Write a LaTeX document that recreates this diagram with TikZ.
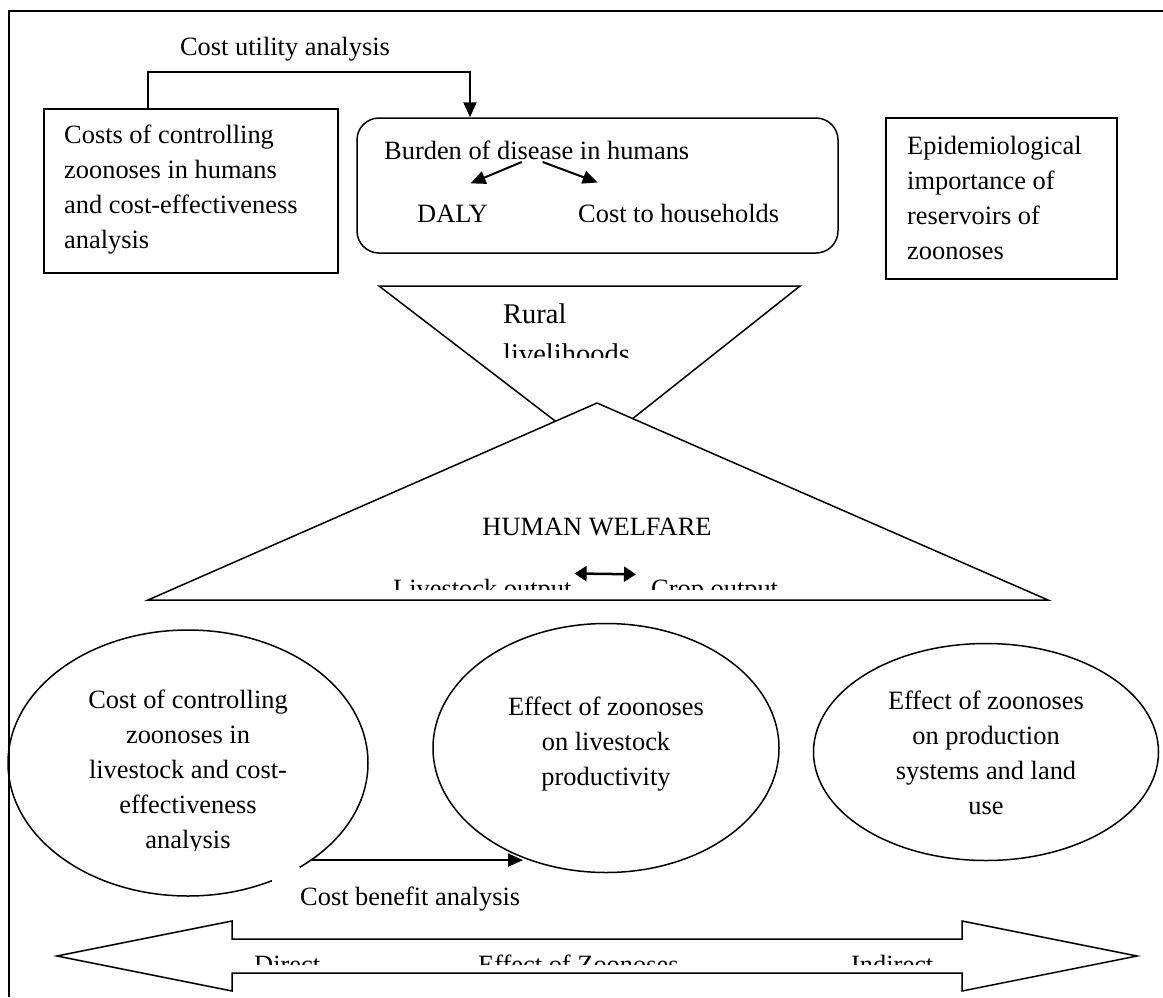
\documentclass[tikz,border=0pt]{standalone}
\usepackage{fontspec}
\setmainfont{Liberation Serif}
\usetikzlibrary{arrows.meta,shapes.geometric}
\newcommand{\linesl}[1]{\begin{tabular}[t]{@{}l@{}}#1\end{tabular}}
\newcommand{\linesc}[1]{\begin{tabular}[t]{@{}c@{}}#1\end{tabular}}
\begin{document}
\begin{tikzpicture}[x=1pt,y=-1pt,
        every node/.style={font=\fontsize{26.4}{35}\selectfont,inner sep=0pt},
        txt/.style={anchor=base west},
        ctxt/.style={anchor=base},
        box/.style={draw,line width=1.5pt,rectangle},
        oval/.style={draw,line width=1.5pt,ellipse},
        wtip/.style={-{Triangle[length=15pt,width=13pt]},line width=2pt}]
        \useasboundingbox (0,0) rectangle (1163,997);
        \draw[line width=2pt] (9,997) -- (9,11) -- (1163,11);
        \node[box,minimum width=294pt,minimum height=164pt] (hcost) at (191,191) {};
        \node[box,rounded corners=22pt,minimum width=481pt,minimum height=135pt] (burden) at (597.5,185.5) {};
        \node[box,minimum width=231pt,minimum height=161pt] (epi) at (1001.5,198.5) {};
        \node[ctxt] (cua) at (285,55) {Cost utility analysis};
        \node[txt] (hcosttxt) at (64,143) {\linesl{Costs of controlling\\zoonoses in humans\\and cost-effectiveness\\analysis}};
        \node[txt] (burdentxt) at (384,159) {Burden of disease in humans};
        \node[txt] (daly) at (417,222) {DALY};
        \node[txt] (costhh) at (578,222) {Cost to households};
        \node[txt] (epitxt) at (907,154) {\linesl{Epidemiological\\importance of\\reservoirs of\\zoonoses}};
        \coordinate (cuaL) at (148,72);
        \coordinate (cuaR) at (470,72);
        \draw[wtip] (cuaL |- hcost.north) -- (cuaL) -- (cuaR) -- (cuaR |- burden.north);
        \draw[wtip] ([xshift=-15pt,yshift=-3pt]burdentxt.base) -- ([xshift=18pt,yshift=21pt]daly.north);
        \draw[wtip] ([xshift=6pt,yshift=-3pt]burdentxt.base) -- ([xshift=-81pt,yshift=21pt]costhh.north);
        \draw[line width=1.5pt] (379,286) -- (800,286) -- (593,450) -- cycle;
        \begin{scope}
            \clip (379,286) rectangle (800,357);
            \node[txt,font=\fontsize{28.5}{40}\selectfont] (rural) at (503,323) {\linesl{Rural\\livelihoods}};
        \end{scope}
        \draw[line width=1.5pt,fill=white] (597,403) -- (1048,600) -- (148,600) -- cycle;
        \node[ctxt] (welfare) at (597,535) {HUMAN WELFARE};
        \begin{scope}
            \clip (148,560) rectangle (1048,589);
            \node[txt] (livout) at (393,597) {Livestock output};
            \node[txt] (cropout) at (651,597) {Crop output};
        \end{scope}
        \draw[{Triangle[length=12pt,width=15pt]}-{Triangle[length=12pt,width=15pt]},line width=2.5pt] ([xshift=3pt,yshift=5pt]livout.north east) -- ([xshift=-15pt,yshift=5pt]cropout.north west);
        \node[oval,minimum width=360pt,minimum height=266pt] (lcost) at (188,763) {};
        \node[oval,minimum width=346pt,minimum height=249pt] (mprod) at (606,748) {};
        \node[oval,minimum width=345pt,minimum height=217pt] (rsys) at (986,752) {};
        \begin{scope}
            \clip (0,600) rectangle (400,850);
            \node[ctxt] (lcosttxt) at (188,708) {\linesc{Cost of controlling\\zoonoses in\\livestock and cost-\\effectiveness\\analysis}};
        \end{scope}
        \node[ctxt] (mprodtxt) at (606,715) {\linesc{Effect of zoonoses\\on livestock\\productivity}};
        \node[ctxt] (rsystxt) at (986,709) {\linesc{Effect of zoonoses\\on production\\systems and land\\use}};
        \node[txt] (cba) at (300,905) {Cost benefit analysis};
        \fill[white] ([xshift=-28pt,yshift=19pt]cba.north west) rectangle (cba.south west);
        \draw[wtip] (lcost.-38) -- (lcost.-38 -| mprod.233);
        \draw[line width=1.5pt] (57,956) -- (232,921) -- (232,939) -- (962,939) -- (962,921) -- (1137,956) -- (962,991) -- (962,973) -- (232,973) -- (232,991) -- cycle;
        \begin{scope}
            \clip (232,940) rectangle (962,964);
            \node[txt] (direct) at (254,973) {Direct};
            \node[txt] (effz) at (478,973) {Effect of Zoonoses};
            \node[txt] (indirect) at (851,973) {Indirect};
        \end{scope}
    \end{tikzpicture}
\end{document}
